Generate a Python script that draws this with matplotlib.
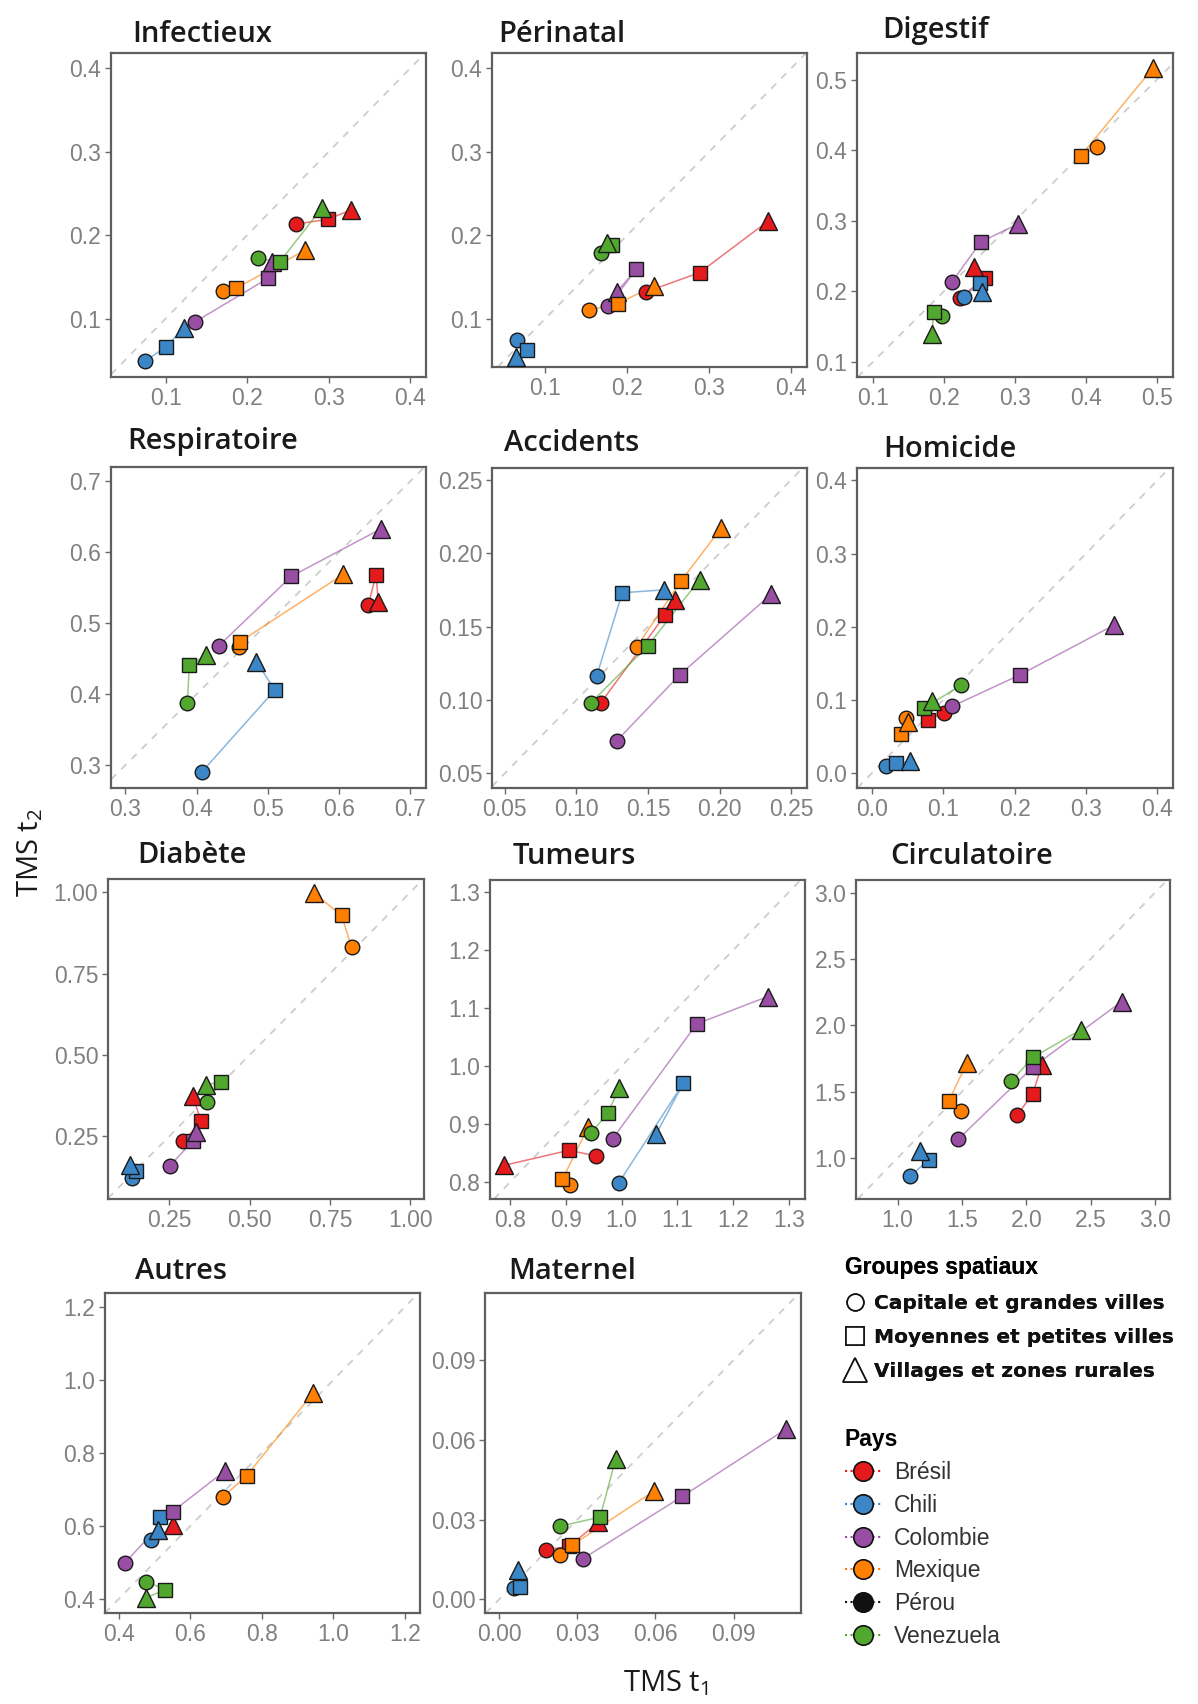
import numpy as np
import matplotlib
matplotlib.use('Agg')
import matplotlib.pyplot as plt
from matplotlib.lines import Line2D
from matplotlib.font_manager import FontProperties

plt.rcParams['mathtext.default'] = 'regular'

N = np.nan
countries = ['Brésil', 'Chili', 'Colombie', 'Mexique', 'Pérou', 'Venezuela']
groups = ['Capitale et grandes villes', 'Moyennes et petites villes', 'Villages et zones rurales']
colors = ['#e41a1c', '#3a86c6', '#984ea3', '#ff7f00', '#111111', '#52a82f']
markers = ['o', 's', '^']

# rows = countries (Brésil, Chili, Colombie, Mexique, Pérou, Venezuela)
# columns = groups (capitale, moyennes, villages)
infectieux_t1 = [[0.260, 0.299, 0.327], [0.075, 0.100, 0.123], [0.136, 0.225, 0.230],
                 [0.170, 0.186, 0.271], [N, N, N], [0.213, 0.240, 0.291]]
infectieux_t2 = [[0.213, 0.219, 0.230], [0.049, 0.066, 0.089], [0.096, 0.148, 0.168],
                 [0.133, 0.136, 0.182], [N, N, N], [0.172, 0.168, 0.232]]

perinatal_t1 = [[0.223, 0.288, 0.372], [0.065, 0.078, 0.064], [0.177, 0.211, 0.187],
                [0.153, 0.188, 0.233], [N, N, N], [0.168, 0.181, 0.175]]
perinatal_t2 = [[0.132, 0.155, 0.217], [0.074, 0.062, 0.054], [0.115, 0.159, 0.132],
                [0.110, 0.118, 0.139], [N, N, N], [0.179, 0.188, 0.190]]

digestif_t1 = [[0.222, 0.258, 0.242], [0.228, 0.250, 0.253], [0.211, 0.252, 0.304],
               [0.416, 0.393, 0.495], [N, N, N], [0.197, 0.185, 0.183]]
digestif_t2 = [[0.190, 0.219, 0.234], [0.192, 0.211, 0.199], [0.213, 0.270, 0.295],
               [0.404, 0.392, 0.517], [N, N, N], [0.164, 0.170, 0.139]]

respiratoire_t1 = [[0.641, 0.652, 0.655], [0.407, 0.510, 0.484], [0.431, 0.533, 0.659],
                   [0.460, 0.461, 0.606], [N, N, N], [0.387, 0.390, 0.414]]
respiratoire_t2 = [[0.526, 0.568, 0.530], [0.290, 0.406, 0.446], [0.468, 0.566, 0.633],
                   [0.467, 0.474, 0.569], [N, N, N], [0.388, 0.441, 0.455]]

accidents_t1 = [[0.117, 0.162, 0.169], [0.114, 0.132, 0.161], [0.128, 0.172, 0.236],
                [0.142, 0.173, 0.201], [N, N, N], [0.110, 0.150, 0.186]]
accidents_t2 = [[0.098, 0.158, 0.168], [0.116, 0.173, 0.175], [0.072, 0.117, 0.172],
                [0.136, 0.181, 0.217], [N, N, N], [0.098, 0.137, 0.182]]

homicide_t1 = [[0.101, 0.078, N], [0.020, 0.034, 0.054], [0.112, 0.207, 0.339],
               [0.047, 0.040, 0.051], [N, N, N], [0.125, 0.073, 0.084]]
homicide_t2 = [[0.082, 0.073, N], [0.009, 0.014, 0.016], [0.091, 0.134, 0.202],
               [0.075, 0.054, 0.070], [N, N, N], [0.120, 0.089, 0.098]]

diabete_t1 = [[0.294, 0.350, 0.323], [0.136, 0.148, 0.128], [0.252, 0.323, 0.335],
              [0.817, 0.786, 0.700], [N, N, N], [0.368, 0.410, 0.364]]
diabete_t2 = [[0.235, 0.296, 0.373], [0.122, 0.143, 0.163], [0.160, 0.235, 0.265],
              [0.830, 0.928, 0.997], [N, N, N], [0.357, 0.416, 0.409]]

tumeurs_t1 = [[0.955, 0.906, 0.789], [0.995, 1.111, 1.062], [0.984, 1.135, 1.262],
              [0.908, 0.894, 0.940], [N, N, N], [0.945, 0.975, 0.996]]
tumeurs_t2 = [[0.845, 0.855, 0.829], [0.799, 0.971, 0.883], [0.875, 1.073, 1.120],
              [0.796, 0.805, 0.895], [N, N, N], [0.884, 0.919, 0.962]]

circulatoire_t1 = [[1.931, 2.050, 2.120], [1.098, 1.241, 1.176], [1.473, 2.050, 2.741],
                   [1.492, 1.396, 1.538], [N, N, N], [1.882, 2.050, 2.423]]
circulatoire_t2 = [[1.326, 1.484, 1.700], [0.862, 0.987, 1.050], [1.143, 1.685, 2.179],
                   [1.351, 1.427, 1.715], [N, N, N], [1.577, 1.758, 1.966]]

autres_t1 = [[N, N, 0.552], [0.489, 0.515, 0.510], [0.417, 0.550, 0.697],
             [0.692, 0.757, 0.944], [N, N, N], [0.477, 0.529, 0.475]]
autres_t2 = [[N, N, 0.603], [0.561, 0.625, 0.589], [0.499, 0.639, 0.751],
             [0.680, 0.737, 0.965], [N, N, N], [0.447, 0.425, 0.402]]

maternel_t1 = [[0.0179, 0.0270, 0.0380], [0.0058, 0.0081, 0.0074], [0.0321, 0.0704, 0.1100],
               [0.0232, 0.0279, 0.0595], [N, N, N], [0.0232, 0.0388, 0.0448]]
maternel_t2 = [[0.0187, 0.0200, 0.0290], [0.0044, 0.0046, 0.0109], [0.0153, 0.0388, 0.0640],
               [0.0166, 0.0203, 0.0408], [N, N, N], [0.0275, 0.0310, 0.0530]]

titles = ['Infectieux', 'Périnatal', 'Digestif', 'Respiratoire', 'Accidents', 'Homicide',
          'Diabète', 'Tumeurs', 'Circulatoire', 'Autres', 'Maternel']
xs = [infectieux_t1, perinatal_t1, digestif_t1, respiratoire_t1, accidents_t1, homicide_t1,
      diabete_t1, tumeurs_t1, circulatoire_t1, autres_t1, maternel_t1]
ys = [infectieux_t2, perinatal_t2, digestif_t2, respiratoire_t2, accidents_t2, homicide_t2,
      diabete_t2, tumeurs_t2, circulatoire_t2, autres_t2, maternel_t2]

# ---- layout (pixels) ----
W, H = 1198, 1704
boxes = [(111, 53, 426, 377), (492, 53, 807, 367), (857, 53, 1173, 377),
         (111, 467, 426, 788), (492, 468, 807, 788), (857, 468, 1173, 788),
         (108, 879, 424, 1199), (490, 880, 805, 1199), (856, 880, 1170, 1199),
         (105, 1293, 420, 1613), (485, 1293, 801, 1613)]
xlims = [(0.033, 0.419), (0.035, 0.419), (0.077, 0.523), (0.280, 0.722), (0.041, 0.261),
         (-0.021, 0.422), (0.060, 1.042), (0.764, 1.329), (0.677, 3.116), (0.361, 1.242),
         (-0.0054, 0.1159)]
ylims = [(0.030, 0.418), (0.042, 0.418), (0.078, 0.538), (0.268, 0.720), (0.040, 0.258),
         (-0.0205, 0.417), (0.058, 1.040), (0.771, 1.321), (0.691, 3.095), (0.361, 1.238),
         (-0.0051, 0.1153)]
ticks = [[0.1, 0.2, 0.3, 0.4], [0.1, 0.2, 0.3, 0.4], [0.1, 0.2, 0.3, 0.4, 0.5],
         [0.3, 0.4, 0.5, 0.6, 0.7], [0.05, 0.10, 0.15, 0.20, 0.25], [0.0, 0.1, 0.2, 0.3, 0.4],
         [0.25, 0.50, 0.75, 1.00], [0.8, 0.9, 1.0, 1.1, 1.2, 1.3], [1.0, 1.5, 2.0, 2.5, 3.0],
         [0.4, 0.6, 0.8, 1.0, 1.2], [0.00, 0.03, 0.06, 0.09]]
fmts = ['{:.1f}', '{:.1f}', '{:.1f}', '{:.1f}', '{:.2f}', '{:.1f}', '{:.2f}', '{:.1f}',
        '{:.1f}', '{:.1f}', '{:.2f}']
title_pos = [(132, 42), (498, 42), (882, 38), (127, 449), (504, 451), (883, 457),
             (137, 863), (513, 864), (890, 864), (135, 1279), (508, 1279)]

fig = plt.figure(figsize=(W / 100, H / 100), dpi=100)

for k in range(11):
    l, t, r, b = boxes[k]
    ax = fig.add_axes([l / W, 1 - b / H, (r - l) / W, (b - t) / H])
    ax.set_xlim(*xlims[k])
    ax.set_ylim(*ylims[k])
    ax.axline((0, 0), slope=1, color='#cdcdcd', lw=1.3, ls=(0, (4, 4)), zorder=1)
    X = np.array(xs[k], dtype=float)
    Y = np.array(ys[k], dtype=float)
    for ci in range(len(countries)):
        ax.plot(X[ci], Y[ci], color=colors[ci], lw=1.1, alpha=0.6, zorder=2)
    for ci in range(len(countries)):
        for gi in range(3):
            ms = [10.5, 10, 12.5][gi]
            ax.plot(X[ci, gi], Y[ci, gi], ls='none', marker=markers[gi], ms=ms,
                    mfc=colors[ci], mec='#1a1a1a', mew=1.0, zorder=3)
    ax.set_xticks(ticks[k])
    ax.set_yticks(ticks[k])
    ax.set_xticklabels([fmts[k].format(v) for v in ticks[k]], family='Liberation Sans')
    ax.set_yticklabels([fmts[k].format(v) for v in ticks[k]], family='Liberation Sans')
    ax.tick_params(direction='out', length=4, width=1.0, color='#6a6a6a',
                   labelcolor='#808080', labelsize=16.5, pad=3)
    for s in ax.spines.values():
        s.set_color('#5f5f5f')
        s.set_linewidth(1.6)
    tx, ty = title_pos[k]
    fig.text(tx / W, 1 - ty / H, titles[k], ha='left', va='baseline', fontsize=21,
             family='Open Sans', fontweight='semibold', color='#1a1a1a')

fig.text(666 / W, 1 - 1683 / H, 'TMS t$_1$', ha='center', va='center', fontsize=21,
         family='Open Sans', color='#1a1a1a')
fig.text(30 / W, 1 - 853 / H, 'TMS t$_2$', ha='center', va='center', fontsize=21,
         family='Open Sans', color='#1a1a1a', rotation=90)

# ---- legends ----
gms = [12, 13, 17]
h1 = [Line2D([], [], ls='none', marker=markers[i], ms=gms[i], mfc='white', mec='#111111', mew=1.2)
      for i in range(3)]
leg1 = fig.legend(h1, groups, title='Groupes spatiaux', loc='upper left',
                  bbox_to_anchor=(845 / W, 1 - 1256 / H), frameon=False,
                  prop=FontProperties(family='DejaVu Sans', weight='bold', size=14.5),
                  title_fontproperties=FontProperties(family='Liberation Sans', weight='bold', size=16.5),
                  alignment='left', handlelength=1.0, handletextpad=0.45, labelspacing=0.75,
                  borderpad=0, borderaxespad=0)
for txt in leg1.get_texts():
    txt.set_color('#111111')
fig.add_artist(leg1)

h2 = [Line2D([], [], color=colors[i], ls=':', lw=1.5, marker='o', ms=14, mfc=colors[i],
             mec='#111111', mew=1.2) for i in range(len(countries))]
leg2 = fig.legend(h2, countries, title='Pays', loc='upper left',
                  bbox_to_anchor=(845 / W, 1 - 1428 / H), frameon=False,
                  prop=FontProperties(family='Liberation Sans', size=16.5),
                  title_fontproperties=FontProperties(family='Liberation Sans', weight='bold', size=16.5),
                  alignment='left', handlelength=1.6, handletextpad=0.55, labelspacing=0.43,
                  borderpad=0, borderaxespad=0)
for txt in leg2.get_texts():
    txt.set_color('#333333')

fig.savefig('out.png', dpi=100, facecolor='white')
